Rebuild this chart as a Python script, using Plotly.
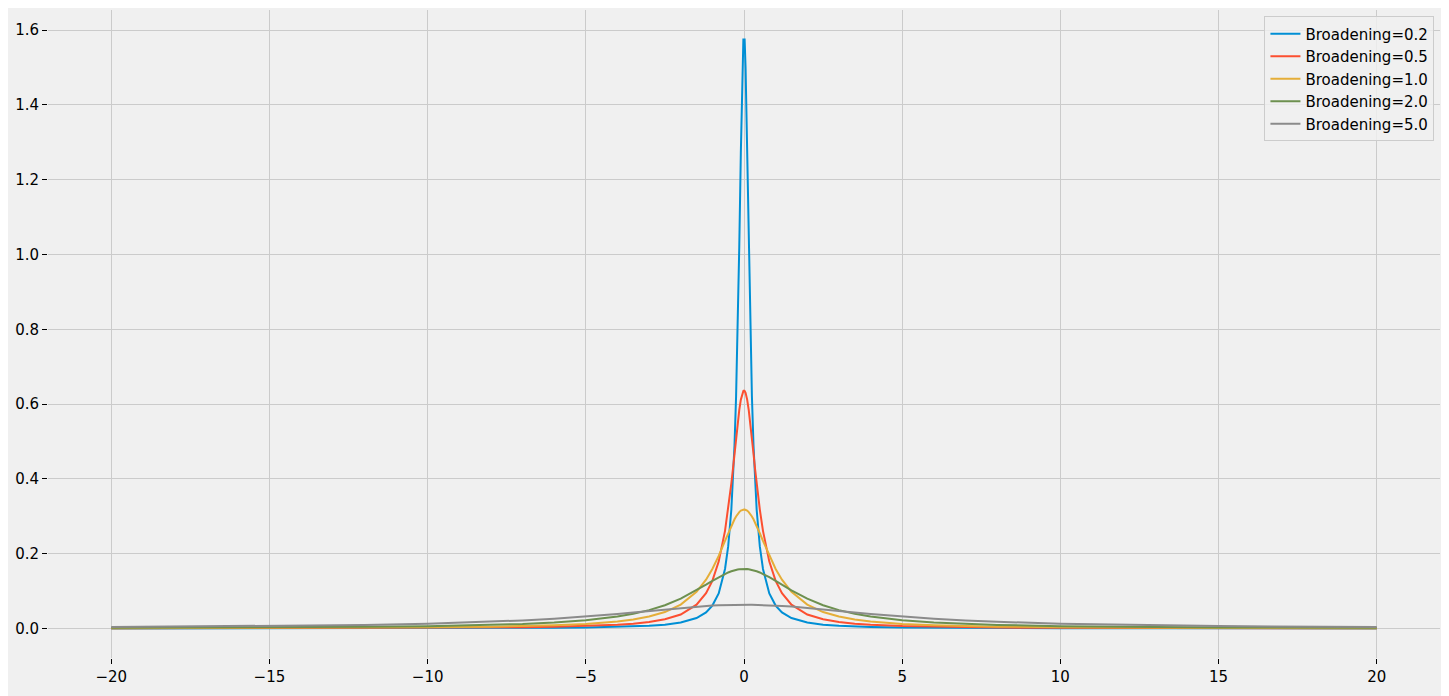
import plotly.graph_objects as go

x = [-20, -15, -12, -10, -8, -7, -6, -5, -4, -3.5, -3, -2.5, -2, -1.5, -1.2, -1, -0.8,
     -0.6, -0.5, -0.4, -0.35, -0.3, -0.25, -0.2, -0.15, -0.1, -0.05, -0.02, 0,
     0.02, 0.05, 0.1, 0.15, 0.2, 0.25, 0.3, 0.35, 0.4, 0.5, 0.6, 0.8, 1, 1.2, 1.5,
     2, 2.5, 3, 3.5, 4, 5, 6, 7, 8, 10, 12, 15, 20]

y_02 = [0.00016, 0.00028, 0.00044, 0.00064, 0.00099, 0.0013, 0.00177, 0.00254, 0.00397,
        0.00518, 0.00704, 0.0101, 0.0158, 0.0278, 0.043, 0.0612, 0.0936,
        0.159, 0.2195, 0.318, 0.392, 0.49, 0.621, 0.796, 1.019, 1.273, 1.498, 1.575, 1.575,
        1.575, 1.498, 1.273, 1.019, 0.796, 0.621, 0.49, 0.392, 0.318, 0.2195, 0.159,
        0.0936, 0.0612, 0.043, 0.0278, 0.0158, 0.0101, 0.00704, 0.00518, 0.00397,
        0.00254, 0.00177, 0.0013, 0.00099, 0.00064, 0.00044, 0.00028, 0.00016]

y_05 = [0.0004, 0.00071, 0.0011, 0.00159, 0.00248, 0.00323, 0.00439, 0.0063, 0.0098,
        0.0127, 0.0172, 0.0245, 0.0374, 0.0637, 0.0942, 0.1273, 0.1788,
        0.261, 0.318, 0.388, 0.426, 0.468, 0.509, 0.549, 0.584, 0.612, 0.63, 0.635, 0.636,
        0.635, 0.63, 0.612, 0.584, 0.549, 0.509, 0.468, 0.426, 0.388, 0.318, 0.261,
        0.1788, 0.1273, 0.0942, 0.0637, 0.0374, 0.0245, 0.0172, 0.0127, 0.0098,
        0.0063, 0.00439, 0.00323, 0.00248, 0.00159, 0.0011, 0.00071, 0.0004]

y_10 = [0.00079, 0.0014, 0.0022, 0.00315, 0.0049, 0.00637, 0.0086, 0.0122, 0.0187,
        0.024, 0.0318, 0.0439, 0.0637, 0.0979, 0.1305, 0.1592, 0.1941,
        0.234, 0.2546, 0.2744, 0.2836, 0.292, 0.2996, 0.3061, 0.3113, 0.3152, 0.3175, 0.3182, 0.3183,
        0.3182, 0.3175, 0.3152, 0.3113, 0.3061, 0.2996, 0.292, 0.2836, 0.2744, 0.2546, 0.234,
        0.1941, 0.1592, 0.1305, 0.0979, 0.0637, 0.0439, 0.0318, 0.024, 0.0187,
        0.0122, 0.0086, 0.00637, 0.0049, 0.00315, 0.0022, 0.0014, 0.00079]

y_20 = [0.0016, 0.0028, 0.0043, 0.0061, 0.0094, 0.012, 0.0159, 0.022, 0.0318,
        0.0392, 0.049, 0.0621, 0.0796, 0.1019, 0.117, 0.1273, 0.1372,
        0.146, 0.1498, 0.153, 0.1545, 0.1557, 0.1567, 0.1576, 0.1583, 0.1588, 0.159, 0.1591, 0.1592,
        0.1591, 0.159, 0.1588, 0.1583, 0.1576, 0.1567, 0.1557, 0.1545, 0.153, 0.1498, 0.146,
        0.1372, 0.1273, 0.117, 0.1019, 0.0796, 0.0621, 0.049, 0.0392, 0.0318,
        0.022, 0.0159, 0.012, 0.0094, 0.0061, 0.0043, 0.0028, 0.0016]

y_50 = [0.0037, 0.0064, 0.0094, 0.0127, 0.0179, 0.0215, 0.0261, 0.0318, 0.0388,
        0.0427, 0.0468, 0.0509, 0.0549, 0.0584, 0.0602, 0.0612, 0.0621,
        0.0628, 0.063, 0.0633, 0.0634, 0.0634, 0.0635, 0.0636, 0.0636, 0.0637, 0.0637, 0.0637, 0.0637,
        0.0637, 0.0637, 0.0637, 0.0636, 0.0636, 0.0635, 0.0634, 0.0634, 0.0633, 0.063, 0.0628,
        0.0621, 0.0612, 0.0602, 0.0584, 0.0549, 0.0509, 0.0468, 0.0427, 0.0388,
        0.0318, 0.0261, 0.0215, 0.0179, 0.0127, 0.0094, 0.0064, 0.0037]

labels = ["Broadening=0.2", "Broadening=0.5", "Broadening=1.0", "Broadening=2.0", "Broadening=5.0"]
series = [y_02, y_05, y_10, y_20, y_50]
# fivethirtyeight-Farben
colors = ["#008fd5", "#fc4f30", "#e5ae38", "#6d904f", "#8b8b8b"]

fig = go.Figure()
for name, ys, c in zip(labels, series, colors):
    fig.add_trace(go.Scatter(x=x, y=ys, mode="lines", name=name,
                             line=dict(color=c, width=2)))

# Seite hat 8px Body-Rand -> Figur etwas kleiner, Ränder angepasst
fig.update_layout(
    width=1441,
    height=688,
    paper_bgcolor="#f0f0f0",
    plot_bgcolor="#f0f0f0",
    margin=dict(l=40, r=9, t=2, b=38),
    font=dict(family="DejaVu Sans", size=15, color="#000000"),
    legend=dict(
        x=0.996, y=0.99, xanchor="right", yanchor="top",
        bgcolor="rgba(240,240,240,0.8)",
        bordercolor="#cccccc", borderwidth=1,
        font=dict(size=15),
        tracegroupgap=0,
    ),
    showlegend=True,
)
fig.update_xaxes(
    range=[-22, 22], tickvals=[-20, -15, -10, -5, 0, 5, 10, 15, 20],
    ticktext=["\u221220", "\u221215", "\u221210", "\u22125", "0", "5", "10", "15", "20"],
    showgrid=True, gridcolor="#cbcbcb", gridwidth=1, zeroline=False, showline=False,
    ticks="outside", ticklen=5, tickcolor="#000000", tickwidth=1, automargin=False,
)
fig.update_yaxes(
    range=[-0.079, 1.654], tickvals=[0, 0.2, 0.4, 0.6, 0.8, 1.0, 1.2, 1.4, 1.6],
    tickformat=".1f",
    showgrid=True, gridcolor="#cbcbcb", gridwidth=1, zeroline=False, showline=False,
    ticks="outside", ticklen=5, tickcolor="#000000", tickwidth=1, automargin=False,
)

fig.write_html("out.html")
